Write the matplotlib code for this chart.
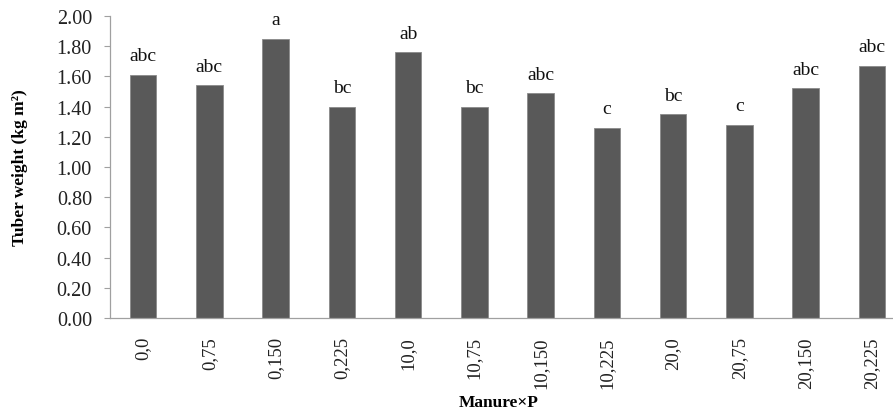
import numpy as np
import matplotlib
matplotlib.use('Agg')
import matplotlib.pyplot as plt

treatments = ['0,0', '0,75', '0,150', '0,225', '10,0', '10,75', '10,150',
              '10,225', '20,0', '20,75', '20,150', '20,225']
tuber_wt = [1.61, 1.54, 1.85, 1.40, 1.76, 1.40, 1.49, 1.26, 1.35, 1.28, 1.52, 1.67]
letters = ['abc', 'abc', 'a', 'bc', 'ab', 'bc', 'abc', 'c', 'bc', 'c', 'abc', 'abc']

plt.rcParams['font.family'] = ['Liberation Serif', 'DejaVu Serif']

fig = plt.figure(figsize=(8.93, 4.14), dpi=100)
ax = fig.add_axes([0.1232, 0.2295, 0.8903, 0.7295])

x = np.arange(len(treatments))
bars = ax.bar(x, tuber_wt, width=0.4, color='#595959', edgecolor='#8a8a8a', linewidth=0.6)

for xi, v, lab in zip(x, tuber_wt, letters):
    ax.annotate(lab, (xi, v), xytext=(0, 7.5), textcoords='offset points',
                ha='center', va='bottom', fontsize=14, color='#111111')

ax.set_xlim(-0.5, len(treatments) - 0.5)
ax.set_ylim(0, 2.0)
ax.set_yticks(np.arange(0, 2.01, 0.2))
ax.set_yticklabels(['%.2f' % t for t in np.arange(0, 2.01, 0.2)], fontsize=14.5, color='#222222')
ax.set_xticks(x)
ax.set_xticklabels(treatments, rotation=90, fontsize=13.5, color='#222222')

ax.tick_params(axis='y', length=4, width=0.8, color='#a0a0a0', pad=9)
ax.tick_params(axis='x', length=0, pad=13)

for s in ['top', 'right']:
    ax.spines[s].set_visible(False)
for s in ['left', 'bottom']:
    ax.spines[s].set_color('#a0a0a0')
    ax.spines[s].set_linewidth(0.9)

fig.text(0.022, 0.594, 'Tuber weight (kg m\u00b2)', rotation=90, ha='center', va='center',
         fontsize=12.5, fontweight='bold')
fig.text(0.558, 0.027, 'Manure\u00d7P', ha='center', va='center', fontsize=12.5, fontweight='bold')

fig.savefig('out.png', dpi=100)
